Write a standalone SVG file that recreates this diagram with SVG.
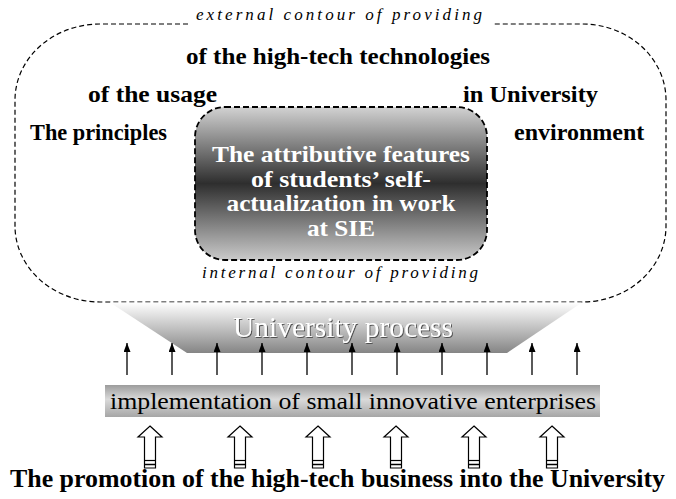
<svg xmlns="http://www.w3.org/2000/svg" width="676" height="499" viewBox="0 0 676 499">
  <defs>
    <linearGradient id="gCore" x1="0" y1="0" x2="0" y2="1">
      <stop offset="0" stop-color="#d2d2d2"/>
      <stop offset="0.5" stop-color="#2e2e2e"/>
      <stop offset="1" stop-color="#cacaca"/>
    </linearGradient>
    <linearGradient id="gFunnel" x1="0" y1="0" x2="0" y2="1">
      <stop offset="0" stop-color="#ffffff"/>
      <stop offset="1" stop-color="#858585"/>
    </linearGradient>
    <linearGradient id="gBar" x1="0" y1="0" x2="0" y2="1">
      <stop offset="0" stop-color="#9c9c9c"/>
      <stop offset="0.45" stop-color="#dadada"/>
      <stop offset="1" stop-color="#a6a6a6"/>
    </linearGradient>
    <filter id="shadow" x="-5%" y="-20%" width="110%" height="140%">
      <feDropShadow dx="1" dy="1" stdDeviation="0.6" flood-color="#444" flood-opacity="0.9"/>
    </filter>
    <marker id="tip" viewBox="0 0 9 7" refX="9" refY="3.5" markerWidth="9" markerHeight="7" markerUnits="userSpaceOnUse" orient="auto">
      <path d="M0,0 L9,3.5 L0,7 Z" fill="#000"/>
    </marker>
    <g id="hollowArrow">
      <path d="M0,426 L12,437 L5.5,437 L5.5,468 L-5.5,468 L-5.5,437 L-12,437 Z" fill="#fff" stroke="#000" stroke-width="1.2" stroke-linejoin="miter"/>
      <line x1="-5.5" y1="460.5" x2="5.5" y2="460.5" stroke="#000" stroke-width="1.2"/>
      <line x1="-5.5" y1="464.5" x2="5.5" y2="464.5" stroke="#000" stroke-width="1.5"/>
    </g>
  </defs>
  <style>
    text { font-family: "Liberation Serif", "Times New Roman", Times, serif; }
    .bold { font-weight: bold; font-size: 24px; fill: #000; }
    .core { font-weight: bold; font-size: 24px; fill: #fff; text-anchor: middle; }
    .ital { font-style: italic; font-size: 17px; fill: #000; }
    .plain { font-size: 24px; fill: #000; }
    .proc { font-size: 29px; fill: #fff; text-anchor: middle; }
    .base { font-weight: bold; font-size: 26px; fill: #000; }
    .contour { fill: none; stroke: #000; stroke-width: 1.2; stroke-dasharray: 5 3; }
    .small-arrow { stroke: #000; stroke-width: 1.3; marker-end: url(#tip); }
  </style>

  <!-- external contour (dashed, open at the top for its label) -->
  <g id="external-contour">
    <path class="contour" d="M188,24 L100,24 A85,76 0 0 0 15,100 L15,226 A85,76 0 0 0 100,302 L582,302 A84,76 0 0 0 666,226 L666,100 A84,76 0 0 0 582,24 L494,24"/>
    <text class="ital" x="196" y="20" textLength="286" lengthAdjust="spacing">external contour of providing</text>
  </g>

  <!-- principle phrases around the core -->
  <g id="principles">
    <text class="bold" x="186" y="64" textLength="304" lengthAdjust="spacingAndGlyphs">of the high-tech technologies</text>
    <text class="bold" x="88" y="102" textLength="129" lengthAdjust="spacingAndGlyphs">of the usage</text>
    <text class="bold" x="463" y="102" textLength="135" lengthAdjust="spacingAndGlyphs">in University</text>
    <text class="bold" x="30" y="140" textLength="137" lengthAdjust="spacingAndGlyphs">The principles</text>
    <text class="bold" x="514" y="140">environment</text>
  </g>

  <!-- internal contour: core block -->
  <g id="core">
    <rect x="195" y="107" width="292" height="153" rx="30" ry="30" fill="url(#gCore)" stroke="#000" stroke-width="1.8" stroke-dasharray="6 3"/>
    <text class="core" x="341" y="162" textLength="258" lengthAdjust="spacingAndGlyphs">The attributive features</text>
    <text class="core" x="341" y="187" textLength="180" lengthAdjust="spacingAndGlyphs">of students’ self-</text>
    <text class="core" x="341" y="211" textLength="229" lengthAdjust="spacingAndGlyphs">actualization in work</text>
    <text class="core" x="341" y="236" textLength="68" lengthAdjust="spacingAndGlyphs">at SIE</text>
    <text class="ital" x="202" y="278" textLength="276" lengthAdjust="spacing">internal contour of providing</text>
  </g>

  <!-- university process funnel -->
  <g id="university-process">
    <polygon points="110,302.6 582,302.6 507,353 187,353" fill="url(#gFunnel)"/>
    <text class="proc" x="343" y="337" filter="url(#shadow)" textLength="220" lengthAdjust="spacingAndGlyphs">University process</text>
  </g>

  <!-- small enterprises bar -->
  <g id="enterprises">
    <rect x="105" y="385" width="495" height="32" fill="url(#gBar)"/>
    <text class="plain" x="110" y="409" textLength="486" lengthAdjust="spacingAndGlyphs">implementation of small innovative enterprises</text>
  </g>

  <!-- connectors -->
  <g id="connectors">
    <line class="small-arrow" x1="127" y1="375" x2="127" y2="343"/>
    <line class="small-arrow" x1="172" y1="375" x2="172" y2="343"/>
    <line class="small-arrow" x1="217" y1="375" x2="217" y2="343"/>
    <line class="small-arrow" x1="262" y1="375" x2="262" y2="343"/>
    <line class="small-arrow" x1="307" y1="375" x2="307" y2="343"/>
    <line class="small-arrow" x1="352" y1="375" x2="352" y2="343"/>
    <line class="small-arrow" x1="397" y1="375" x2="397" y2="343"/>
    <line class="small-arrow" x1="442" y1="375" x2="442" y2="343"/>
    <line class="small-arrow" x1="487" y1="375" x2="487" y2="343"/>
    <line class="small-arrow" x1="532" y1="375" x2="532" y2="343"/>
    <line class="small-arrow" x1="577" y1="375" x2="577" y2="343"/>
    <use href="#hollowArrow" x="150"/>
    <use href="#hollowArrow" x="240"/>
    <use href="#hollowArrow" x="318"/>
    <use href="#hollowArrow" x="396"/>
    <use href="#hollowArrow" x="474"/>
    <use href="#hollowArrow" x="552"/>
  </g>

  <!-- business promotion base -->
  <g id="promotion">
    <text class="base" x="10" y="487" textLength="655" lengthAdjust="spacingAndGlyphs">The promotion of the high-tech business into the University</text>
  </g>
</svg>
